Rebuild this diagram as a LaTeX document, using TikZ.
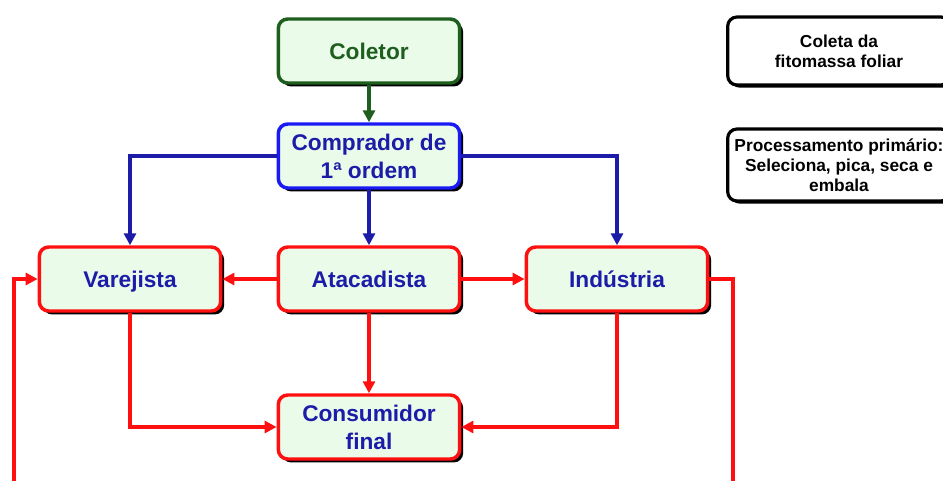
\documentclass[tikz,border=0pt]{standalone}
\usepackage{fontspec}
\setmainfont{Liberation Sans}
\usetikzlibrary{arrows.meta,shadows}
\definecolor{boxfill}{HTML}{EAFBEA}
\definecolor{darkgreen}{HTML}{1E5E1E}
\definecolor{navy}{HTML}{1C1CA8}
\definecolor{brightblue}{HTML}{1A1AF5}
\definecolor{linkred}{HTML}{FF1010}
\begin{document}
\begin{tikzpicture}[x=0.75pt,y=-0.75pt,
  font=\bfseries\fontsize{17}{21}\selectfont,
  box/.style={draw,rounded corners=7pt,fill=boxfill,line width=2.6pt,
    minimum width=136pt,minimum height=48pt,align=center,text=navy,
    drop shadow={shadow xshift=2.6pt,shadow yshift=-2.6pt,opacity=1,fill=black}},
  note/.style={draw=black,rounded corners=7pt,fill=white,line width=2.4pt,
    minimum width=167pt,align=center,inner sep=1pt,
    font=\bfseries\fontsize{13}{15}\selectfont,
    drop shadow={shadow xshift=2pt,shadow yshift=-2pt,opacity=1,fill=black}},
  link/.style={line width=2.4pt,-{Triangle[length=9pt,width=9pt]}}]
\useasboundingbox (0,0) rectangle (943,480);
\clip (0,0) rectangle (943,480);
\node[box,draw=darkgreen,text=darkgreen] (col) at (369,51) {Coletor};
\node[box,draw=brightblue] (comp) at (369,156) {Comprador de\\1ª ordem};
\node[box,draw=linkred,text depth=0pt] (var) at (130,279) {Varejista};
\node[box,draw=linkred] (atac) at (369,279) {Atacadista};
\node[box,draw=linkred] (ind) at (617,279) {Indústria};
\node[box,draw=linkred] (cons) at (369,427) {Consumidor\\final};
\node[note,minimum height=51pt] (coleta) at (839,51) {Coleta da\\fitomassa foliar};
\node[note,minimum height=54pt] (proc) at (839,165) {Processamento primário:\\Seleciona, pica, seca e\\embala};
\coordinate (outr) at (733,500);
\coordinate (outl) at (14,500);
\draw[link,darkgreen] (col) -- (comp);
\draw[link,navy] (comp.west) -| (var.north);
\draw[link,navy] (comp) -- (atac);
\draw[link,navy] (comp.east) -| (ind.north);
\draw[link,linkred] (atac) -- (var);
\draw[link,linkred] (atac) -- (ind);
\draw[link,linkred] (atac) -- (cons);
\draw[link,linkred] (var.south) |- (cons.west);
\draw[link,linkred] (ind.south) |- (cons.east);
\draw[link,linkred] (ind.east) -| (outr) -- (outl) |- (var.west);
\end{tikzpicture}
\end{document}
